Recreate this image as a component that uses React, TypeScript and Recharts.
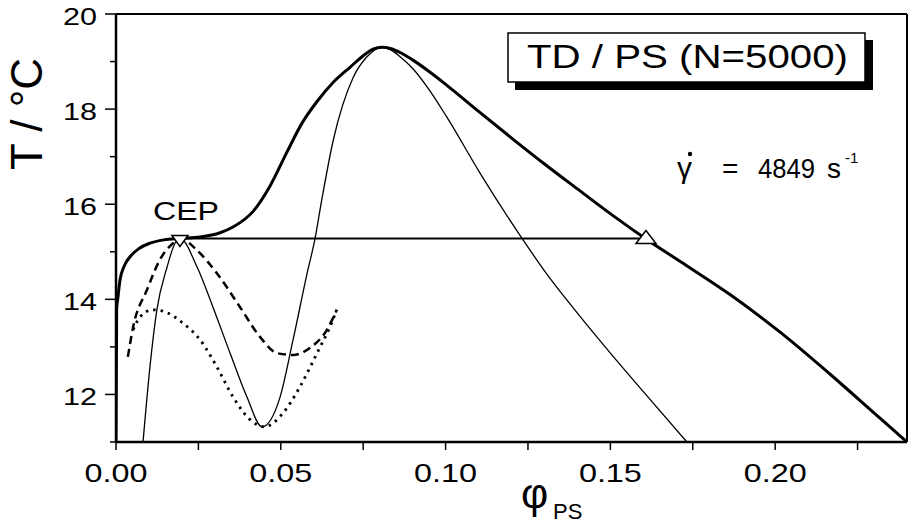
import {
  ComposedChart,
  Line,
  Scatter,
  XAxis,
  YAxis,
  ReferenceLine,
} from "recharts";

// binodal (thick)
const binodalPhi = [
  0, 0.0002, 0.0006, 0.0012, 0.0025, 0.0042, 0.007, 0.0103, 0.0145, 0.0194,
  0.0255, 0.0316, 0.0355, 0.0416, 0.0467, 0.0519, 0.0564, 0.061, 0.066, 0.071,
  0.0755, 0.078, 0.0807, 0.0835, 0.0862, 0.0901, 0.0952, 0.1004, 0.1104,
  0.1204, 0.1305, 0.1408, 0.1508, 0.1608, 0.1711, 0.1863, 0.2015, 0.2166,
  0.2318, 0.24,
];
const binodalT = [
  11.0, 13.8, 14.05, 14.4, 14.7, 14.89, 15.07, 15.18, 15.25, 15.28, 15.31,
  15.4, 15.52, 15.85, 16.38, 17.1, 17.7, 18.16, 18.57, 18.88, 19.15, 19.26,
  19.3, 19.27, 19.19, 19.03, 18.78, 18.5, 17.93, 17.37, 16.82, 16.28, 15.76,
  15.27, 14.8, 14.1, 13.31, 12.43, 11.5, 11.0,
];

// spinodal (thin)
const spinodalPhi = [
  0.0082, 0.0103, 0.0124, 0.0155, 0.0179, 0.0194, 0.0246, 0.0294, 0.0346,
  0.0397, 0.0443, 0.0498, 0.0537, 0.058, 0.0604, 0.0624, 0.0659, 0.072, 0.076,
  0.0807, 0.0835, 0.0862, 0.0901, 0.0953, 0.1004, 0.1104, 0.1235, 0.13, 0.14,
  0.15, 0.16, 0.1732,
];
const spinodalT = [
  11.0, 12.58, 13.78, 14.68, 15.18, 15.28, 14.68, 13.84, 12.87, 11.95, 11.32,
  11.95, 13.14, 14.55, 15.28, 16.08, 17.34, 18.67, 19.09, 19.3, 19.24, 19.1,
  18.85, 18.38, 17.83, 16.66, 15.25, 14.6, 13.71, 12.87, 12.06, 11.0,
];

// dashed curve
const dashedPhi = [
  0.0036, 0.0052, 0.0094, 0.0133, 0.0173, 0.0194, 0.0246, 0.0306, 0.0376,
  0.0437, 0.0488, 0.0537, 0.0589, 0.064, 0.067,
];
const dashedT = [
  12.79, 13.42, 14.2, 14.83, 15.18, 15.28, 15.03, 14.55, 13.84, 13.21, 12.87,
  12.83, 12.98, 13.36, 13.78,
];

// dotted curve
const dottedPhi = [
  0.0052, 0.0073, 0.0112, 0.0155, 0.0203, 0.0255, 0.0306, 0.0355, 0.0407,
  0.045, 0.0507, 0.0558, 0.061, 0.0649, 0.067,
];
const dottedT = [
  13.36, 13.63, 13.78, 13.72, 13.5, 13.15, 12.58, 11.95, 11.47, 11.32, 11.61,
  12.16, 12.87, 13.42, 13.78,
];

// tie line CEP -> coexisting point
const tiePhi = [0.0194, 0.1608];
const tieT = [15.28, 15.28];

const xTicks = [0, 0.025, 0.05, 0.075, 0.1, 0.125, 0.15, 0.175, 0.2, 0.225];
const xLabels = ["0.00", "0.05", "0.10", "0.15", "0.20"];
const yTicks = [11, 12, 13, 14, 15, 16, 17, 18, 19, 20];
const yLabels = ["12", "14", "16", "18", "20"];

const zip = (xs: number[], ys: number[]) => xs.map((x, i) => ({ x, y: ys[i] }));

const FONT = "'Liberation Sans', Arial, Helvetica, sans-serif";

const YTick = (props: any) => {
  const { x, y, payload } = props;
  const v = payload.value;
  const lab = yLabels.find((l) => Number(l) === v);
  return (
    <g>
      <line x1={x - (lab ? 11 : 6)} x2={x} y1={y} y2={y} stroke="#000" strokeWidth={1.5} />
      {lab && (
        <text
          x={x - 19}
          y={y + 11}
          textAnchor="end"
          fontSize={24}
          fontFamily={FONT}
          textLength={34}
          lengthAdjust="spacingAndGlyphs"
        >
          {lab}
        </text>
      )}
    </g>
  );
};

const XTick = (props: any) => {
  const { x, y, payload } = props;
  const v = payload.value;
  const lab = xLabels.find((l) => Math.abs(Number(l) - v) < 1e-9);
  return (
    <g>
      <line x1={x} x2={x} y1={y} y2={y + 8} stroke="#000" strokeWidth={1.5} />
      {lab && (
        <text
          x={x}
          y={y + 40}
          textAnchor="middle"
          fontSize={26}
          fontFamily={FONT}
          textLength={63}
          lengthAdjust="spacingAndGlyphs"
        >
          {lab}
        </text>
      )}
    </g>
  );
};

const Tri = (props: any) => {
  const { cx, cy, payload } = props;
  const pts =
    payload.dir === "down"
      ? `${cx - 8},${cy - 3} ${cx + 8},${cy - 3} ${cx},${cy + 8}`
      : `${cx},${cy - 8} ${cx - 10},${cy + 5} ${cx + 10},${cy + 5}`;
  return <polygon points={pts} fill="#fff" stroke="#000" strokeWidth={1.5} />;
};

export default function App() {
  const binodal = zip(binodalPhi, binodalT);
  const spinodal = zip(spinodalPhi, spinodalT);
  const dashed = zip(dashedPhi, dashedT);
  const dotted = zip(dottedPhi, dottedT);
  const tie = zip(tiePhi, tieT);
  const markers = [
    { x: tiePhi[0], y: tieT[0], dir: "down" },
    { x: tiePhi[1], y: tieT[1], dir: "up" },
  ];

  return (
    <div style={{ position: "absolute", left: 0, top: 0, width: 908, height: 524, background: "#fff" }}>
      <ComposedChart width={908} height={524} margin={{ top: 14, right: 1, left: 0, bottom: 0 }}>
        <XAxis
          dataKey="x"
          type="number"
          domain={[0, 0.24]}
          allowDataOverflow
          ticks={xTicks}
          interval={0}
          height={82}
          tickSize={0}
          tickMargin={0}
          tickLine={false}
          axisLine={{ stroke: "#000", strokeWidth: 2.5 }}
          tick={<XTick />}
        />
        <YAxis
          dataKey="y"
          type="number"
          domain={[11, 20]}
          allowDataOverflow
          ticks={yTicks}
          interval={0}
          width={116}
          tickSize={0}
          tickMargin={0}
          tickLine={false}
          axisLine={{ stroke: "#000", strokeWidth: 2.5 }}
          tick={<YTick />}
        />
        <ReferenceLine y={20} stroke="#000" strokeWidth={2} />
        <ReferenceLine x={0.24} stroke="#000" strokeWidth={2} />
        <Line data={dotted} dataKey="y" type="monotone" stroke="#000" strokeWidth={2.8} strokeDasharray="2.5 5" dot={false} isAnimationActive={false} />
        <Line data={dashed} dataKey="y" type="monotone" stroke="#000" strokeWidth={2.5} strokeDasharray="8 5" dot={false} isAnimationActive={false} />
        <Line data={spinodal} dataKey="y" type="monotone" stroke="#000" strokeWidth={1.3} dot={false} isAnimationActive={false} />
        <Line data={binodal} dataKey="y" type="monotone" stroke="#000" strokeWidth={3} dot={false} isAnimationActive={false} />
        <Line data={tie} dataKey="y" type="linear" stroke="#000" strokeWidth={2} dot={false} isAnimationActive={false} />
        <Scatter data={markers} dataKey="y" shape={<Tri />} isAnimationActive={false} />
      </ComposedChart>
      <svg
        width={908}
        height={524}
        style={{ position: "absolute", left: 0, top: 0, pointerEvents: "none" }}
        fontFamily={FONT}
      >
        <text
          transform="translate(42,114) rotate(-90)"
          textAnchor="middle"
          fontSize={45}
          textLength={112}
          lengthAdjust="spacingAndGlyphs"
        >
          T / °C
        </text>
        <text x={521} y={508} fontSize={42}>
          φ
        </text>
        <text x={553} y={519} fontSize={22}>
          PS
        </text>
        <text x={153} y={220} fontSize={25} textLength={66} lengthAdjust="spacingAndGlyphs">
          CEP
        </text>
        <rect x={515} y={40} width={358} height={50} fill="#000" />
        <rect x={508} y={33} width={357} height={49} fill="#fff" stroke="#000" strokeWidth={1.5} />
        <text x={527} y={68} fontSize={34} textLength={321} lengthAdjust="spacingAndGlyphs">
          TD / PS (N=5000)
        </text>
        <text x={677} y={178} fontSize={30}>
          γ
        </text>
        <circle cx={690} cy={154} r={2.2} fill="#000" />
        <text x={722} y={178} fontSize={28}>
          =
        </text>
        <text x={758} y={178} fontSize={28} textLength={57} lengthAdjust="spacingAndGlyphs">
          4849
        </text>
        <text x={827} y={178} fontSize={28}>
          s
        </text>
        <text x={845} y={163} fontSize={15}>
          -1
        </text>
      </svg>
    </div>
  );
}
